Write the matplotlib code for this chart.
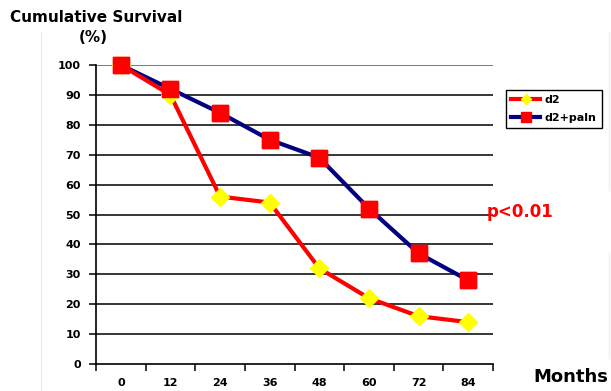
import matplotlib.pyplot as plt
from matplotlib.lines import Line2D

months = [0, 12, 24, 36, 48, 60, 72, 84]
d2 = [100, 90, 56, 54, 32, 22, 16, 14]
d2_paln = [100, 92, 84, 75, 69, 52, 37, 28]
y_ticks = list(range(0, 101, 10))

plt.rcParams['font.family'] = 'DejaVu Sans'
plt.rcParams['font.weight'] = 'bold'

W, H = 611, 391
fig = plt.figure(figsize=(W / 100, H / 100), dpi=100)
ax = fig.add_axes([96 / W, 1 - 364 / H, (493 - 96) / W, (364 - 65) / H])

# faint slide borders behind the chart
fig.add_artist(Line2D([41 / W, 41 / W], [0, 1 - 32 / H], color='#ececec', lw=1))
fig.add_artist(Line2D([609 / W, 609 / W], [1 - 190 / H, 1 - 32 / H], color='#f2f2f2', lw=1))
fig.add_artist(Line2D([609 / W, 609 / W], [1 - 358 / H, 1 - 252 / H], color='#f2f2f2', lw=1))

x = list(range(len(months)))

# horizontal gridlines
for v in y_ticks[1:]:
    ax.axhline(v, color='#555555' if v == 100 else 'black', lw=1.1, zorder=1)

line_paln, = ax.plot(x, d2_paln, color='#000080', lw=3, zorder=2,
                     marker='s', markersize=11, markerfacecolor='red',
                     markeredgecolor='red', clip_on=False)
line_d2, = ax.plot(x, d2, color='red', lw=3, zorder=3,
                   marker='D', markersize=9, markerfacecolor='yellow',
                   markeredgecolor='yellow', clip_on=False)
# squares above the diamonds
ax.plot(x, d2_paln, ls='none', marker='s', markersize=11, color='red', zorder=4,
        clip_on=False)

ax.set_xlim(-0.5, len(months) - 0.5)
ax.set_ylim(0, 100)

# category axis: ticks between categories, labels centred
ax.set_xticks([i - 0.5 for i in range(len(months) + 1)])
ax.set_xticklabels([])
ax.set_xticks(x, minor=True)
ax.set_xticklabels([str(m) for m in months], minor=True, fontsize=8, fontweight='bold')
ax.tick_params(axis='x', which='major', direction='out', length=5, width=1.1)
ax.tick_params(axis='x', which='minor', length=0, pad=10)

ax.set_yticks(y_ticks)
ax.set_yticklabels([str(v) for v in y_ticks], fontsize=8, fontweight='bold')
ax.tick_params(axis='y', direction='out', length=5, width=1.1, pad=6)

for side in ['top', 'right']:
    ax.spines[side].set_visible(False)
for side in ['left', 'bottom']:
    ax.spines[side].set_linewidth(1.2)
    ax.spines[side].set_zorder(5)

leg = fig.legend([line_d2, line_paln], ['d2', 'd2+paln'],
                 loc='upper left', bbox_to_anchor=(500 / W, 1 - 84 / H),
                 fancybox=False, edgecolor='black', framealpha=1,
                 prop={'size': 8, 'weight': 'bold'}, handlelength=2.6,
                 borderpad=0.5, labelspacing=0.7, handletextpad=0.4,
                 markerscale=0.6)
leg.get_frame().set_linewidth(1.0)

fig.text(10 / W, 1 - 17 / H, 'Cumulative Survival', fontsize=11, fontweight='bold',
         va='center', ha='left')
fig.text(93 / W, 1 - 38 / H, '(%)', fontsize=11, fontweight='bold',
         va='center', ha='center')
fig.text(487 / W, 1 - 212 / H, 'p<0.01', fontsize=12, fontweight='bold',
         color='red', va='center', ha='left')
fig.text(533 / W, 1 - 377 / H, 'Months', fontsize=13, fontweight='bold',
         va='center', ha='left')

fig.savefig('out.png', dpi=100)
